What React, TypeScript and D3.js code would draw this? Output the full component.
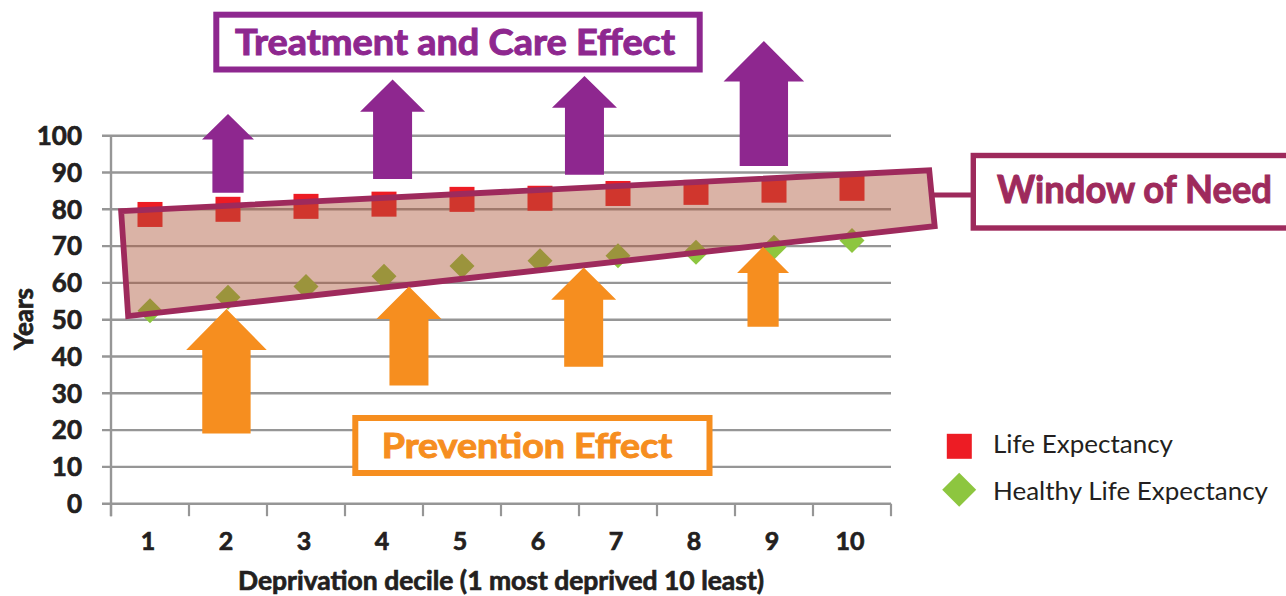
import React from 'react';
import * as d3 from 'd3';

// ---------------- data ----------------
const deciles = [1, 2, 3, 4, 5, 6, 7, 8, 9, 10];
const lifeExpectancy = [78.6, 80.0, 80.8, 81.4, 82.7, 83.0, 84.3, 84.6, 85.2, 85.7];
const healthyLifeExpectancy = [52.4, 56.1, 59.0, 61.8, 64.6, 66.0, 67.4, 68.3, 69.7, 71.5];
const yTicks = [0, 10, 20, 30, 40, 50, 60, 70, 80, 90, 100];
const xTitle = 'Deprivation decile (1 most deprived 10 least)';
const yTitle = 'Years';
const legendLabels = ['Life Expectancy', 'Healthy Life Expectancy'];
const treatmentLabel = 'Treatment and Care Effect';
const preventionLabel = 'Prevention Effect';
const windowLabel = 'Window of Need';

// "Window of Need" band corners (decile, years)
const windowDeciles = [0.63, 10.99, 11.06, 0.72];
const windowYears = [79.5, 90.6, 75.4, 51.0];

// Arrows (decile position, tip / head-base / tail in years)
const treatmentArrowDeciles = [2.0, 4.11, 6.57, 8.87];
const treatmentArrowTip = [105.9, 115.3, 116.2, 125.7];
const treatmentArrowHeadBase = [99.0, 106.5, 107.6, 114.7];
const treatmentArrowTail = [84.5, 88.2, 89.4, 91.8];
const treatmentArrowSize = [0.8, 1.0, 1.0, 1.24];

const preventionArrowDeciles = [1.98, 4.32, 6.56, 8.86];
const preventionArrowTip = [52.9, 59.0, 64.2, 69.8];
const preventionArrowHeadBase = [41.8, 50.2, 55.4, 62.7];
const preventionArrowTail = [19.1, 32.1, 37.2, 48.1];
const preventionArrowSize = [1.24, 1.0, 1.0, 0.8];

// ---------------- styles ----------------
const W = 1286;
const H = 596;
const RED = '#ed1c24';
const GREEN = '#8dc63f';
const PURPLE = '#8e278f';
const ORANGE = '#f68e1f';
const MAROON = '#9e2a5c';
const GRID = '#969696';
const TEXT = '#231f20';
const FONT = 'Lato, "Open Sans", sans-serif';
const HEAVY = 700;
const THICK = 0.7;

export default function App() {
  const x = d3.scaleLinear().domain([0.5, 10.5]).range([111, 891]);
  const y = d3.scaleLinear().domain([0, 100]).range([503.7, 135.7]);

  const bandTicks = d3.range(0.5, 11, 1);

  const bandPath =
    (d3.line()(windowDeciles.map((d, i) => [x(d), y(windowYears[i])] as [number, number])) || '') + 'Z';

  const arrowPath = (d: number, tip: number, base: number, tail: number, s: number) => {
    const cx = x(d);
    const hw = 32.5 * s;
    const sw = 19.5 * s;
    const pts: [number, number][] = [
      [cx, y(tip)],
      [cx + hw, y(base)],
      [cx + sw, y(base)],
      [cx + sw, y(tail)],
      [cx - sw, y(tail)],
      [cx - sw, y(base)],
      [cx - hw, y(base)],
    ];
    return (d3.line()(pts) || '') + 'Z';
  };

  const sq = 25;
  const diamond = (cx: number, cy: number, r: number) =>
    `M${cx},${cy - r}L${cx + r},${cy}L${cx},${cy + r}L${cx - r},${cy}Z`;

  return (
    <svg
      width={W}
      height={H}
      style={{ position: 'absolute', left: 0, top: 0, fontFamily: FONT }}
    >
      <rect x={0} y={0} width={W} height={H} fill="#fff" />

      {/* gridlines */}
      {yTicks.map((t) => (
        <line key={'g' + t} x1={102} x2={x(10.5)} y1={y(t)} y2={y(t)} stroke={GRID} strokeWidth={2.4} />
      ))}
      {/* y axis line */}
      <line x1={x(0.5)} x2={x(0.5)} y1={y(100)} y2={y(0) + 12.5} stroke={GRID} strokeWidth={2.4} />
      {/* x ticks */}
      {bandTicks.map((t) => (
        <line key={'xt' + t} x1={x(t)} x2={x(t)} y1={y(0)} y2={y(0) + 12.5} stroke={GRID} strokeWidth={2.2} />
      ))}

      {/* y tick labels */}
      {yTicks.map((t) => (
        <text
          key={'yl' + t}
          x={82}
          y={y(t)}
          dy="0.36em"
          textAnchor="end"
          fontSize={26}
          fontWeight={HEAVY}
          fill={TEXT}
          stroke={TEXT}
          strokeWidth={THICK}
        >
          {t}
        </text>
      ))}
      {/* x tick labels */}
      {deciles.map((d) => (
        <text
          key={'xl' + d}
          x={x(d) - 2}
          y={550}
          textAnchor="middle"
          fontSize={25}
          fontWeight={HEAVY}
          fill={TEXT}
          stroke={TEXT}
          strokeWidth={THICK}
        >
          {d}
        </text>
      ))}

      {/* axis titles */}
      <text
        x={238}
        y={590}
        fontSize={26}
        fontWeight={HEAVY}
        fill={TEXT}
        stroke={TEXT}
        strokeWidth={THICK}
        textLength={526}
        lengthAdjust="spacingAndGlyphs"
      >
        {xTitle}
      </text>
      <text
        transform={`translate(33,319) rotate(-90)`}
        textAnchor="middle"
        fontSize={26}
        fontWeight={HEAVY}
        fill={TEXT}
        stroke={TEXT}
        strokeWidth={THICK}
        textLength={62}
        lengthAdjust="spacingAndGlyphs"
      >
        {yTitle}
      </text>

      {/* data points */}
      {deciles.map((d, i) => (
        <rect
          key={'le' + d}
          x={x(d) - sq / 2}
          y={y(lifeExpectancy[i]) - sq / 2}
          width={sq}
          height={sq}
          fill={RED}
        />
      ))}
      {deciles.map((d, i) => (
        <path key={'hle' + d} d={diamond(x(d), y(healthyLifeExpectancy[i]), 12.5)} fill={GREEN} />
      ))}

      {/* window of need band */}
      <path d={bandPath} fill="rgb(173,87,58)" fillOpacity={0.45} />
      <path d={bandPath} fill="none" stroke={MAROON} strokeWidth={5.8} strokeLinejoin="miter" />

      {/* connector + window of need label box */}
      <line x1={932} x2={973} y1={195} y2={195} stroke={MAROON} strokeWidth={4.8} />
      <rect x={973.3} y={155.5} width={330} height={72.5} fill="#fff" stroke={MAROON} strokeWidth={5.4} />
      <text
        x={997}
        y={202.7}
        fontSize={38}
        fontWeight={HEAVY}
        fill={MAROON}
        stroke={MAROON}
        strokeWidth={1}
        textLength={275}
        lengthAdjust="spacingAndGlyphs"
      >
        {windowLabel}
      </text>

      {/* arrows */}
      {treatmentArrowDeciles.map((d, i) => (
        <path
          key={'ta' + i}
          d={arrowPath(d, treatmentArrowTip[i], treatmentArrowHeadBase[i], treatmentArrowTail[i], treatmentArrowSize[i])}
          fill={PURPLE}
        />
      ))}
      {preventionArrowDeciles.map((d, i) => (
        <path
          key={'pa' + i}
          d={arrowPath(d, preventionArrowTip[i], preventionArrowHeadBase[i], preventionArrowTail[i], preventionArrowSize[i])}
          fill={ORANGE}
        />
      ))}

      {/* treatment label box */}
      <rect x={216.3} y={14.7} width={483.4} height={54.8} fill="#fff" stroke={PURPLE} strokeWidth={6} />
      <text
        x={235}
        y={55}
        fontSize={36}
        fontWeight={HEAVY}
        fill={PURPLE}
        stroke={PURPLE}
        strokeWidth={1}
        textLength={440}
        lengthAdjust="spacingAndGlyphs"
      >
        {treatmentLabel}
      </text>

      {/* prevention label box */}
      <rect x={355.3} y={418} width={354.2} height={55} fill="#fff" stroke={ORANGE} strokeWidth={6} />
      <text
        x={381.7}
        y={458.3}
        fontSize={35}
        fontWeight={HEAVY}
        fill={ORANGE}
        stroke={ORANGE}
        strokeWidth={1}
        textLength={290.6}
        lengthAdjust="spacingAndGlyphs"
      >
        {preventionLabel}
      </text>

      {/* legend */}
      <rect x={959.3 - sq / 2} y={446.3 - sq / 2} width={sq} height={sq} fill={RED} />
      <text x={993} y={453.3} fontSize={25} fill={TEXT} textLength={180} lengthAdjust="spacingAndGlyphs">
        {legendLabels[0]}
      </text>
      <path d={diamond(959.2, 489.7, 17)} fill={GREEN} />
      <text x={993} y={500} fontSize={25} fill={TEXT} textLength={275} lengthAdjust="spacingAndGlyphs">
        {legendLabels[1]}
      </text>
    </svg>
  );
}
